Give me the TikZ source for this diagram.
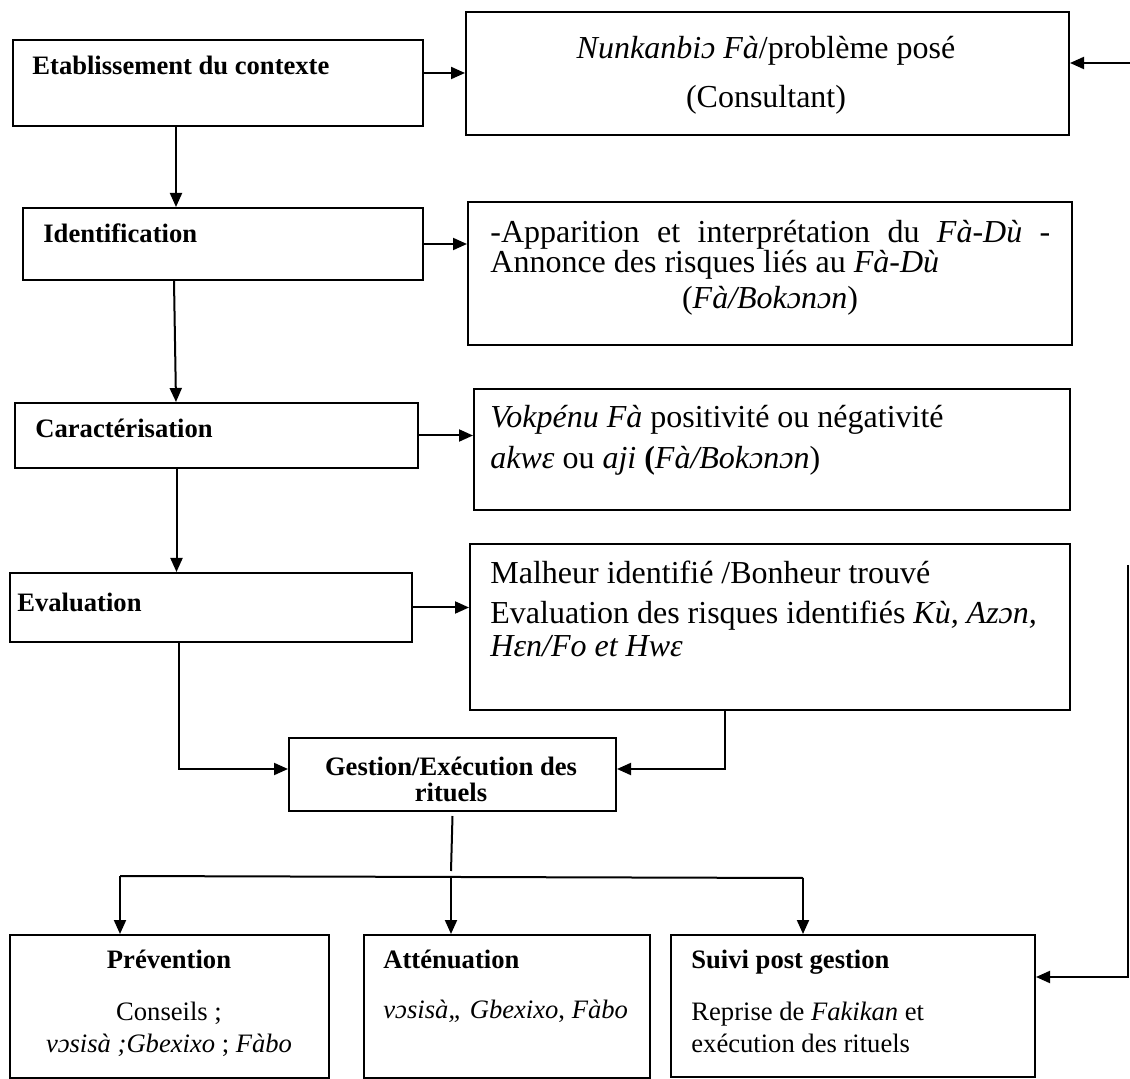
\documentclass[tikz,border=0pt]{standalone}
\usepackage{fontspec}
\setmainfont{Liberation Serif}
\usetikzlibrary{arrows.meta}

\tikzset{
  box/.style={draw, line width=1pt, inner sep=0pt, anchor=north west},
  txt/.style={inner sep=0pt, anchor=base west, font=\fontsize{16}{18}\selectfont},
  ttl/.style={inner sep=0pt, anchor=base west, font=\fontsize{13.3}{15}\selectfont\bfseries},
  sml/.style={inner sep=0pt, anchor=base west, font=\fontsize{13.3}{15}\selectfont},
  arr/.style={line width=1pt, -{Triangle[length=7pt,width=6pt]}},
  ln/.style={line width=1pt}
}

\begin{document}
\begin{tikzpicture}[x=0.5pt,y=0.5pt,yscale=-1]
        \fill[white] (0,0) rectangle (1130,1079);
        \useasboundingbox (0,0) rectangle (1130,1079);

        % boxes
        \node[box, minimum width=205pt, minimum height=43pt] (ctx) at (12,39) {};
        \node[box, minimum width=301.5pt, minimum height=61.5pt] (pb) at (465,11) {};
        \node[box, minimum width=200pt, minimum height=36pt] (idf) at (22,207) {};
        \node[box, minimum width=302pt, minimum height=71.5pt] (app) at (467,201) {};
        \node[box, minimum width=201.5pt, minimum height=32.5pt] (car) at (14,402) {};
        \node[box, minimum width=298pt, minimum height=60.5pt] (vok) at (473,388) {};
        \node[box, minimum width=201pt, minimum height=34.5pt] (eva) at (9,572) {};
        \node[box, minimum width=300pt, minimum height=83pt] (mal) at (469,543) {};
        \node[box, minimum width=163.5pt, minimum height=36.5pt] (ges) at (288,737) {};
        \node[box, minimum width=159.5pt, minimum height=71.5pt] (prv) at (9,934) {};
        \node[box, minimum width=143pt, minimum height=71.5pt] (att) at (363,934) {};
        \node[box, minimum width=182pt, minimum height=71pt] (sui) at (670,934) {};

        % texts
        \node[ttl] (ctxT) at (32,75) {Etablissement du contexte};
        \node[txt, anchor=base] (pbT1) at (766,59) {\textit{Nunkanbiɔ Fà}/problème posé};
        \node[txt, anchor=base] (pbT2) at (766,108) {(Consultant)};
        \node[ttl] (idfT) at (43,243) {Identification};
        \node[txt] (appT1) at (490,243) {\makebox[280pt][s]{-Apparition et interprétation du \textit{Fà-Dù} -}};
        \node[txt] (appT2) at (490,273) {Annonce des risques liés au \textit{Fà-Dù}};
        \node[txt, anchor=base] (appT3) at (770,309) {(\textit{Fà/Bokɔnɔn})};
        \node[ttl] (carT) at (35,438) {Caractérisation};
        \node[txt] (vokT1) at (490,428) {\textit{Vokpénu Fà} positivité ou négativité};
        \node[txt] (vokT2) at (490,469) {\textit{akwε} ou \textit{aji} \textbf{(}\textit{Fà/Bokɔnɔn})};
        \node[ttl] (evaT) at (17,612) {Evaluation};
        \node[txt] (malT1) at (490,584) {Malheur identifié /Bonheur trouvé};
        \node[txt] (malT2) at (490,624) {Evaluation des risques identifiés \textit{Kù, Azɔn,}};
        \node[txt] (malT3) at (490,657) {\textit{Hεn/Fo et Hwɛ}};
        \node[ttl, anchor=base] (gesT1) at (451,776) {Gestion/Exécution des};
        \node[ttl, anchor=base] (gesT2) at (451,801) {rituels};
        \node[ttl, anchor=base] (prvT) at (169,968) {Prévention};
        \node[sml, anchor=base] (prvL1) at (169,1020) {Conseils ;};
        \node[sml, anchor=base] (prvL2) at (169,1052) {\textit{vɔsisà ;Gbexixo} ; \textit{Fàbo}};
        \node[ttl] (attT) at (383,968) {Atténuation};
        \node[sml] (attL) at (383,1018) {\textit{vɔsisà,, Gbexixo}, \textit{Fàbo}};
        \node[ttl] (suiT) at (691,968) {Suivi post gestion};
        \node[sml] (suiL1) at (691,1020) {Reprise de \textit{Fakikan} et};
        \node[sml] (suiL2) at (691,1052) {exécution des rituels};

        % free ends
        \coordinate (fbTop) at (1130,63);
        \coordinate (fbBot) at (1128,565);
        \coordinate (stubEnd) at (451,871);
        \coordinate (split) at (451,877);
        \coordinate (spL) at (120,876);
        \coordinate (spR) at (803,878);

        % connectors
        \draw[arr] ([yshift=-5pt]ctx.east) -- ([yshift=-5pt]ctx.east -| pb.west);
        \draw[arr] (fbTop) -- (fbTop -| pb.east);
        \draw[arr] ([xshift=-21pt]ctx.south) -- ([xshift=-21pt]ctx.south |- idf.north);
        \draw[arr] (idf.east) -- (idf.east -| app.west);
        \draw[arr] ([xshift=-24.5pt]idf.south) -- ([xshift=-23.5pt]idf.south |- car.north);
        \draw[arr] (car.east) -- (car.east -| vok.west);
        \draw[arr] ([xshift=-20pt]car.south) -- ([xshift=-20pt]car.south |- eva.north);
        \draw[arr] (eva.east) -- (eva.east -| mal.west);
        \draw[arr] ([xshift=-16pt]eva.south) |- ([yshift=-2.75pt]ges.west);
        \draw[arr] ([xshift=-22.5pt]mal.south) |- ([yshift=-2.75pt]ges.east);
        \draw[ln] ([yshift=2pt]ges.south) -- (stubEnd);
        \draw[ln] (spL) -- (spR);
        \draw[arr] (spL) -- (spL |- prv.north);
        \draw[arr] (split) -- (split |- att.north);
        \draw[arr] (spR) -- (spR |- sui.north);
        \draw[arr] (fbBot) -- ([yshift=-14.5pt]sui.east -| fbBot) -- ([yshift=-14.5pt]sui.east);
\end{tikzpicture}
\end{document}
